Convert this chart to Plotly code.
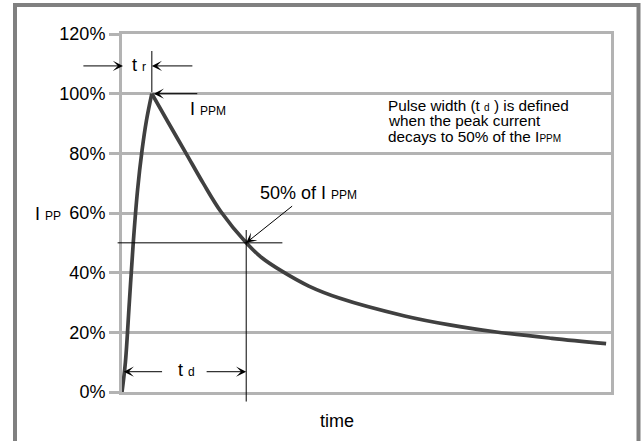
import plotly.graph_objects as go

# ---- data (time in arbitrary units, current in % of I_PPM)
time = [0, 0.7, 1.5, 2.3, 3.2, 4.1, 5.0, 6.1,
        9.4, 13.1, 16.6, 20.2, 25.4, 28.6, 32.7, 38.2, 44.4,
        57.8, 67.0, 76.2, 87.9, 99.0]
current = [0, 10, 30, 50, 68, 81, 91, 100,
           90.5, 80, 70, 60.5, 50, 45, 40.5, 35.5, 31.5,
           25.5, 22.5, 20.2, 18, 16.2]

y_ticks = [0, 20, 40, 60, 80, 100, 120]
y_labels = ["0%", "20%", "40%", "60%", "80%", "100%", "120%"]

T_PEAK = 6.1      # end of rise time t_r
T_HALF = 25.4     # time where current decays to 50 %
HALF = 50

FONT = "Liberation Sans, Arial, Helvetica, sans-serif"
GRID = "#b3b3b3"
CURVE = "#404040"
FRAME = "#808080"

W, H = 642, 441
L, R, T, B = 122, 31, 34, 49
PW, PH = W - L - R, H - T - B


def px_x(px):
    return (px - L) / PW


def px_y(py):
    return (H - B - py) / PH


i_peak = current.index(max(current))
fig = go.Figure()
for xs, ys in [(time[:i_peak + 1], current[:i_peak + 1]),
               (time[i_peak:], current[i_peak:])]:
    fig.add_trace(go.Scatter(
        x=xs, y=ys, mode="lines",
        line=dict(color=CURVE, width=3.7, shape="spline", smoothing=1.0),
        hoverinfo="skip"))


def line(x, y, ax, ay, head=0):
    return dict(x=x, y=y, ax=ax, ay=ay, xref="x", yref="y", axref="x", ayref="y",
                text="", showarrow=True, arrowhead=head, arrowsize=1.7,
                arrowwidth=1, arrowcolor="black", standoff=0, startstandoff=0)


SMALL = "<span style='font-size:12px'>%s</span>"
anns = [
    # t_r arrows and marker line
    line(0.2, 109.3, -8.2, 109.3, head=3),
    line(T_PEAK, 109.3, 14.7, 109.3, head=3),
    line(T_PEAK, 114.3, T_PEAK, 100),
    # I_PPM arrow
    line(T_PEAK + 0.4, 100, 15.7, 100, head=3),
    # 50 % crosshair
    line(32.8, HALF, -1.2, HALF),
    line(T_HALF, 54.3, T_HALF, -3.7),
    line(T_HALF, HALF, 35.1, 62.7, head=3),
    # t_d arrows
    line(0.35, 6.8, 8.5, 6.8, head=3),
    line(T_HALF, 6.8, 17.0, 6.8, head=3),
]


def text(x, y, s, size=18, xanchor="center", xref="x", yref="y"):
    return dict(x=x, y=y, xref=xref, yref=yref, text=s, showarrow=False,
                xanchor=xanchor, yanchor="middle",
                font=dict(family=FONT, size=size, color="black"))


anns += [
    text(3.4, 109.7, "t " + SMALL % "r"),
    text(13.4, 95.0, "I " + SMALL % "PPM", xanchor="left"),
    text(27.9, 66.7, "50% of I " + SMALL % "PPM", xanchor="left"),
    text(13.1, 7.3, "t " + SMALL % "d"),
    text(px_x(47.6), 59.5, "I " + SMALL % "PP", xref="paper"),
    text(44.0, px_y(421), "time", yref="paper"),
    text(54.0, 96.2, "Pulse width (t <span style='font-size:10px'>d</span> ) is defined",
         size=15.3, xanchor="left"),
    text(54.0, 90.9, "when the peak current", size=15.3, xanchor="left"),
    text(54.0, 85.7, "decays to 50% of the I<span style='font-size:10px'>PPM</span>",
         size=15.3, xanchor="left"),
]

shapes = [dict(type="rect", xref="paper", yref="paper",
               x0=px_x(15), x1=px_x(638.5), y0=px_y(5), y1=px_y(470),
               line=dict(color=FRAME, width=4), fillcolor="rgba(0,0,0,0)", layer="above")]

fig.update_layout(
    width=W, height=H,
    margin=dict(l=L, r=R, t=T, b=B, autoexpand=False),
    paper_bgcolor="white", plot_bgcolor="white", showlegend=False,
    font=dict(family=FONT, size=18, color="black"),
    annotations=anns, shapes=shapes,
)
fig.update_xaxes(range=[0, 100], showgrid=False, zeroline=False, showticklabels=False,
                 ticks="", showline=True, linecolor=GRID, linewidth=3, mirror=True)
fig.update_yaxes(range=[0, 120], tickvals=y_ticks, ticktext=y_labels,
                 showgrid=True, gridcolor=GRID, gridwidth=3, zeroline=False,
                 showline=True, linecolor=GRID, linewidth=3, mirror=True,
                 ticks="outside", ticklen=10, tickwidth=3, tickcolor=GRID,
                 tickfont=dict(family=FONT, size=18, color="black"))

fig.write_html("out.html",
               config={"displayModeBar": False, "staticPlot": True},
               post_script="document.body.style.margin='0';"
                           "document.body.style.overflow='hidden';")
